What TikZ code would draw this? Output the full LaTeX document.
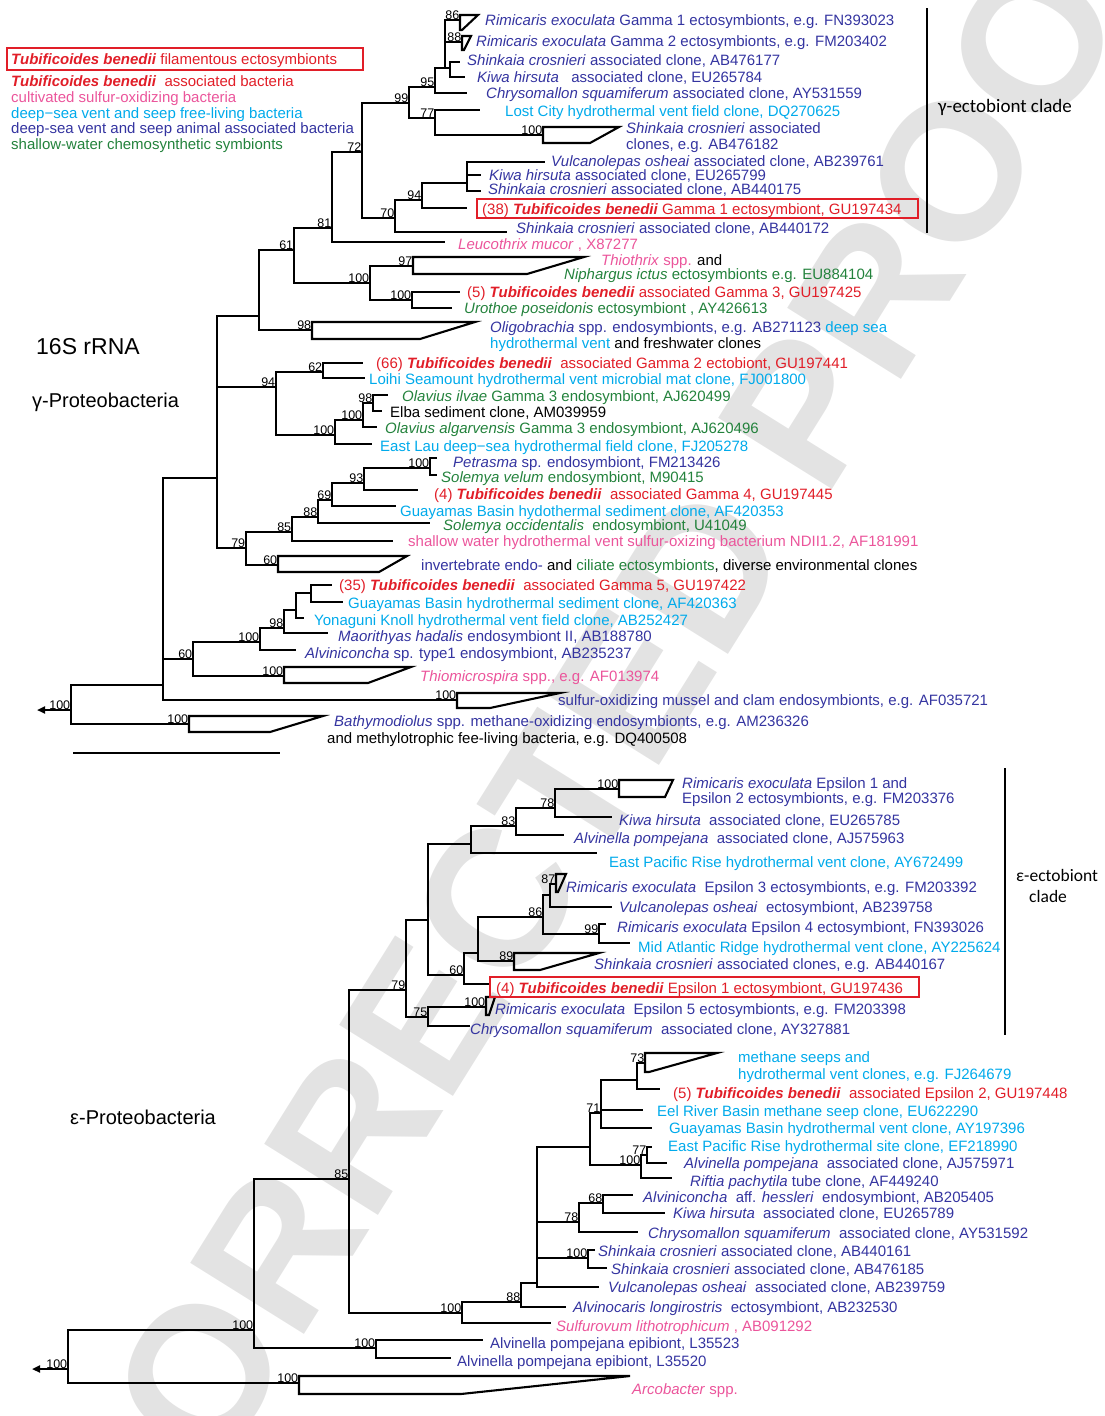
\documentclass[tikz,border=0pt]{standalone}
\usepackage{fontspec}
\setmainfont{Liberation Sans}
\newfontfamily\clb{Carlito}
\usetikzlibrary{arrows.meta}
\definecolor{tred}{RGB}{225,30,40}
\definecolor{tpink}{RGB}{235,85,155}
\definecolor{tcyan}{RGB}{0,170,235}
\definecolor{tblue}{RGB}{52,52,160}
\definecolor{tgreen}{RGB}{35,130,60}
\newcommand{\tb}{\textbf{\textit{Tubificoides benedii}}}
\newcommand\qclade[7]{\coordinate (#1) at (#2,#7);
  \draw[br,line join=miter] (#2,#3) -- (#5,#3) -- (#6,#4) -- (#2,#4) -- cycle;}
\newcommand\bsv[2]{\node[bst] (b#1) at (#1) {#2};}
\newcommand\lb[4]{\node[lab,text=#3] (#1) at (#2) {#4};}
\begin{document}
\begin{tikzpicture}[x=1pt,y=-1pt,
  br/.style={line width=2.1pt},
  lab/.style={anchor=west,inner sep=0pt,text height=11pt,text depth=0pt,font=\fontsize{15}{17}\selectfont},
  bst/.style={anchor=south east,inner sep=0.6pt,font=\fontsize{12.5}{13}\selectfont},
  tip/.style={br,-{Triangle[length=8pt,width=7pt]}}]
\useasboundingbox (0,0) rectangle (1105,1416);
\begin{scope}
\clip (0,0) rectangle (1105,1416);
\node[rotate=58,anchor=base west,text=black!11,inner sep=0pt,font=\fontsize{195}{195}\selectfont\bfseries] (wm) at (142,1594) {CORRECTED PROOF};
\end{scope}

% ---------- legend ----------
\draw[tred,line width=1.4pt] (7,48) rectangle (363,70);
\lb{lg1}{11,59}{tred}{\tb\ filamentous ectosymbionts}
\lb{lg2}{11,81}{tred}{\tb\ \ associated bacteria}
\lb{lg3}{11,97}{tpink}{cultivated sulfur-oxidizing bacteria}
\lb{lg4}{11,113}{tcyan}{deep−sea vent and seep free-living bacteria}
\lb{lg5}{11,128}{tblue}{deep-sea vent and seep animal associated bacteria}
\lb{lg6}{11,144}{tgreen}{shallow-water chemosynthetic symbionts}

\node[anchor=west,inner sep=0pt,font=\fontsize{23}{25}\selectfont] (t16s) at (36,347) {16S rRNA};
\node[anchor=west,inner sep=0pt,font=\fontsize{20}{22}\selectfont] (tgam) at (32,402) {γ-Proteobacteria};
\node[anchor=west,inner sep=0pt,font=\fontsize{20}{22}\selectfont] (teps) at (70,1117) {ε-Proteobacteria};

% ---------- gamma tree ----------
\coordinate (Rg) at (71,710);   \coordinate (aG) at (37,710);
\coordinate (Z) at (163,685);   \coordinate (Y) at (217,478);
\coordinate (X) at (259,316);   \coordinate (N61) at (294,250);
\coordinate (N81) at (332,228); \coordinate (N72) at (362,152);
\coordinate (N99) at (409,103); \coordinate (N95) at (435,87);
\coordinate (N1) at (445,68);   \coordinate (NSK) at (450,68);
\coordinate (N77) at (435,118); \coordinate (N70) at (395,218);
\coordinate (N94) at (422,200); \coordinate (Nvks) at (467,183);
\coordinate (N100) at (370,283);\coordinate (N100b) at (412,300);
\coordinate (N94g) at (276,387);\coordinate (N62) at (323,372);
\coordinate (N100c) at (335,435);\coordinate (N100d) at (363,420);
\coordinate (N98b) at (373,403);\coordinate (N79) at (246,548);
\coordinate (N85) at (292,532); \coordinate (N88) at (318,517);
\coordinate (N69) at (332,500); \coordinate (N93) at (364,483);
\coordinate (N100e) at (430,468);\coordinate (N60l) at (193,659);
\coordinate (N100f) at (260,642);\coordinate (N98c) at (284,628);
\coordinate (Nu) at (296,610);  \coordinate (Nv) at (311,593);

\qclade{G1q}{460}{15}{30}{478}{462}{20}
\qclade{G2q}{462}{36}{50}{471}{464}{42}
\qclade{Qsk}{543}{127}{143}{619}{590}{135}
\qclade{Q97}{413}{257}{274}{584}{527}{266}
\qclade{Q98}{312}{322}{339}{475}{420}{330}
\qclade{Q60}{278}{556}{572}{407}{379}{565}
\qclade{QThio}{284}{667}{683}{411}{368}{676}
\qclade{QMus}{457}{693}{708}{560}{490}{700}
\qclade{QBat}{189}{716}{732}{323}{270}{724}

\coordinate (eChr) at (467,93);  \coordinate (eNSK1) at (460,62); \coordinate (eNSK2) at (465,77);
\coordinate (eLost) at (480,110);\coordinate (eLeu) at (445,242); \coordinate (eSk172) at (507,232);
\coordinate (eTub38) at (467,208);\coordinate (eVul) at (545,162);\coordinate (eKiw) at (481,175);
\coordinate (eShk) at (481,191); \coordinate (eG3) at (460,292);  \coordinate (eUro) at (452,308);
\coordinate (eG2) at (363,363);  \coordinate (eLoi) at (365,378); \coordinate (eEast) at (372,444);
\coordinate (eOalg) at (377,427);\coordinate (eOilv) at (388,395);\coordinate (eElba) at (382,411);
\coordinate (ePet) at (437,458); \coordinate (eSvel) at (437,475);\coordinate (eG4) at (418,490);
\coordinate (eGuay1) at (396,506);\coordinate (eSocc) at (430,523);\coordinate (eShal) at (393,541);
\coordinate (eAlvc) at (296,650);\coordinate (eMao) at (328,633); \coordinate (eYon) at (304,618);
\coordinate (eG5) at (332,585);  \coordinate (eGuay2) at (343,602);

\foreach \a/\b in {Rg/Z,Rg/QBat,Z/Y,Z/N60l,Z/QMus,Y/X,Y/N94g,Y/N79,X/N61,X/Q98,N61/N81,N61/N100,
  N81/N72,N81/eLeu,N72/N99,N72/N70,N99/N95,N99/N77,N95/N1,N95/eChr,N1/G1q,N1/G2q,N1/NSK,
  NSK/eNSK1,NSK/eNSK2,N77/eLost,N77/Qsk,N70/N94,N70/eSk172,N94/Nvks,N94/eTub38,Nvks/eVul,
  Nvks/eKiw,Nvks/eShk,N100/Q97,N100/N100b,N100b/eG3,N100b/eUro,N94g/N62,N94g/N100c,N62/eG2,
  N62/eLoi,N100c/N100d,N100c/eEast,N100d/N98b,N100d/eOalg,N98b/eOilv,N98b/eElba,N79/N85,
  N79/Q60,N85/N88,N85/eShal,N88/N69,N88/eSocc,N69/N93,N69/eGuay1,N93/N100e,N93/eG4,
  N100e/ePet,N100e/eSvel,N60l/N100f,N60l/QThio,N100f/N98c,N100f/eAlvc,N98c/Nu,N98c/eMao,
  Nu/Nv,Nu/eYon,Nv/eG5,Nv/eGuay2}
  \draw[br] (\a) |- (\b);
\draw[tip] (Rg) -- (aG);

\bsv{G1q}{86}\bsv{G2q}{88}\bsv{N95}{95}\bsv{N99}{99}\bsv{N77}{77}\bsv{Qsk}{100}
\bsv{N72}{72}\bsv{N94}{94}\bsv{N70}{70}\bsv{N81}{81}\bsv{N61}{61}\bsv{Q97}{97}
\bsv{N100}{100}\bsv{N100b}{100}\bsv{Q98}{98}\bsv{N62}{62}\bsv{N94g}{94}\bsv{N98b}{98}
\bsv{N100d}{100}\bsv{N100c}{100}\bsv{N100e}{100}\bsv{N93}{93}\bsv{N69}{69}\bsv{N88}{88}
\bsv{N85}{85}\bsv{N79}{79}\bsv{Q60}{60}\bsv{N98c}{98}\bsv{N100f}{100}\bsv{N60l}{60}
\bsv{QThio}{100}\bsv{QMus}{100}\bsv{Rg}{100}\bsv{QBat}{100}

% gamma labels
\lb{g1}{485,20}{tblue}{\textit{Rimicaris exoculata} Gamma 1 ectosymbionts, e.g. FN393023}
\lb{g2}{476,41}{tblue}{\textit{Rimicaris exoculata} Gamma 2 ectosymbionts, e.g. FM203402}
\lb{g3}{467,60}{tblue}{\textit{Shinkaia crosnieri} associated clone, AB476177}
\lb{g4}{477,77}{tblue}{\textit{Kiwa hirsuta}\ \ \ associated clone, EU265784}
\lb{g5}{486,93}{tblue}{\textit{Chrysomallon squamiferum} associated clone, AY531559}
\lb{g6}{505,111}{tcyan}{Lost City hydrothermal vent field clone, DQ270625}
\lb{g7}{626,128}{tblue}{\textit{Shinkaia crosnieri} associated}
\lb{g7b}{626,144}{tblue}{clones, e.g. AB476182}
\lb{g8}{551,161}{tblue}{\textit{Vulcanolepas osheai} associated clone, AB239761}
\lb{g9}{489,175}{tblue}{\textit{Kiwa hirsuta} associated clone, EU265799}
\lb{g10}{488,189}{tblue}{\textit{Shinkaia crosnieri} associated clone, AB440175}
\draw[tred,line width=1.4pt] (477,199) rectangle (918,218);
\lb{g11}{482,209}{tred}{(38) \tb\ Gamma 1 ectosymbiont, GU197434}
\lb{g12}{516,228}{tblue}{\textit{Shinkaia crosnieri} associated clone, AB440172}
\lb{g13}{458,244}{tpink}{\textit{Leucothrix mucor} , X87277}
\lb{g14}{601,260}{black}{\textcolor{tpink}{\textit{Thiothrix} spp.} and}
\lb{g15}{564,274}{tgreen}{\textit{Niphargus ictus} ectosymbionts e.g. EU884104}
\lb{g16}{467,292}{tred}{(5) \tb\ associated Gamma 3, GU197425}
\lb{g17}{464,308}{tgreen}{\textit{Urothoe poseidonis} ectosymbiont , AY426613}
\lb{g18}{490,327}{tblue}{\textit{Oligobrachia} spp. endosymbionts, e.g. AB271123 \textcolor{tcyan}{deep sea}}
\lb{g18b}{490,343}{black}{\textcolor{tcyan}{hydrothermal vent} and freshwater clones}
\lb{g19}{376,363}{tred}{(66) \tb\ \ associated Gamma 2 ectobiont, GU197441}
\lb{g20}{369,379}{tcyan}{Loihi Seamount hydrothermal vent microbial mat clone, FJ001800}
\lb{g21}{402,396}{tgreen}{\textit{Olavius ilvae} Gamma 3 endosymbiont, AJ620499}
\lb{g22}{390,412}{black}{Elba sediment clone, AM039959}
\lb{g23}{385,428}{tgreen}{\textit{Olavius algarvensis} Gamma 3 endosymbiont, AJ620496}
\lb{g24}{380,446}{tcyan}{East Lau deep−sea hydrothermal field clone, FJ205278}
\lb{g25}{453,462}{tblue}{\textit{Petrasma} sp. endosymbiont, FM213426}
\lb{g26}{441,477}{tgreen}{\textit{Solemya velum} endosymbiont, M90415}
\lb{g27}{434,494}{tred}{(4) \tb\ \ associated Gamma 4, GU197445}
\lb{g28}{400,511}{tcyan}{Guayamas Basin hydothermal sediment clone, AF420353}
\lb{g29}{443,525}{tgreen}{\textit{Solemya occidentalis}\ \ endosymbiont, U41049}
\lb{g30}{408,541}{tpink}{shallow water hydrothermal vent sulfur-oxizing bacterium NDII1.2, AF181991}
\lb{g31}{421,565}{black}{\textcolor{tblue}{invertebrate endo-} and \textcolor{tgreen}{ciliate ectosymbionts}, diverse environmental clones}
\lb{g32}{339,585}{tred}{(35) \tb\ \ associated Gamma 5, GU197422}
\lb{g33}{348,603}{tcyan}{Guayamas Basin hydrothermal sediment clone, AF420363}
\lb{g34}{314,620}{tcyan}{Yonaguni Knoll hydrothermal vent field clone, AB252427}
\lb{g35}{338,636}{tblue}{\textit{Maorithyas hadalis} endosymbiont II, AB188780}
\lb{g36}{305,653}{tblue}{\textit{Alviniconcha} sp. type1 endosymbiont, AB235237}
\lb{g37}{420,676}{tpink}{\textit{Thiomicrospira} spp., e.g. AF013974}
\lb{g38}{558,700}{tblue}{sulfur-oxidizing mussel and clam endosymbionts, e.g. AF035721}
\lb{g39}{334,721}{tblue}{\textit{Bathymodiolus} spp. methane-oxidizing endosymbionts, e.g. AM236326}
\lb{g40}{327,738}{black}{and methylotrophic fee-living bacteria, e.g. DQ400508}

\coordinate (sb1) at (73,753); \coordinate (sb2) at (280,753);
\draw[br] (sb1) -- (sb2);
\coordinate (gb1) at (927,8); \coordinate (gb2) at (927,233);
\draw[line width=2pt] (gb1) -- (gb2);
\node[anchor=west,inner sep=0pt,font=\clb\fontsize{19}{21}\selectfont] (gcl) at (938,107) {γ-ectobiont clade};

% ---------- epsilon tree ----------
\coordinate (Re) at (68,1369);   \coordinate (aE) at (32,1369);
\coordinate (N100r) at (254,1330);\coordinate (N100ep) at (376,1348);
\coordinate (N85e) at (349,1179);\coordinate (N79e) at (406,990);
\coordinate (Ntop) at (428,920); \coordinate (N83a) at (471,844);
\coordinate (N83) at (516,826);  \coordinate (N78e) at (555,808);
\coordinate (N60e) at (464,975); \coordinate (Nmid) at (478,953);
\coordinate (N86) at (543,917);  \coordinate (N87p) at (550,895);
\coordinate (N99e) at (599,934); \coordinate (N75) at (428,1017);
\coordinate (N100s) at (462,1313);\coordinate (N88e) at (521,1302);
\coordinate (Nbig) at (537,1283);\coordinate (P) at (590,1147);
\coordinate (N71) at (601,1113); \coordinate (N73p) at (637,1080);
\coordinate (N100g) at (641,1165);\coordinate (N77l) at (647,1155);
\coordinate (N78l) at (579,1222);\coordinate (N68) at (603,1203);
\coordinate (N100h) at (588,1258);

\qclade{QE12}{619}{780}{797}{673}{665}{789}
\qclade{Q87}{556}{874}{892}{566}{558}{884}
\qclade{Q89}{514}{953}{970}{599}{540}{961}
\qclade{QE5}{486}{997}{1015}{495}{489}{1007}
\qclade{Q73}{645}{1053}{1072}{717}{649}{1063}
\qclade{QArco}{299}{1376}{1394}{630}{461}{1383}

\coordinate (eKiw85) at (612,817); \coordinate (eAlv963) at (564,835); \coordinate (eEPR499) at (597,853);
\coordinate (eTubE1) at (491,984); \coordinate (eVul758) at (612,907); \coordinate (eE4) at (606,924);
\coordinate (eMAR) at (630,943);   \coordinate (eChr881) at (470,1026);\coordinate (eSul) at (551,1323);
\coordinate (eAlvo) at (566,1307); \coordinate (eVul759) at (599,1287);\coordinate (eTubE2) at (660,1089);
\coordinate (eEel) at (643,1110);  \coordinate (eGuay396) at (652,1128);\coordinate (eRif) at (672,1178);
\coordinate (eEPR990) at (652,1147);\coordinate (eAlv971) at (667,1163);\coordinate (eChr592) at (638,1232);
\coordinate (eAlvc405) at (633,1195);\coordinate (eKiw789) at (665,1213);\coordinate (eSk161) at (595,1250);
\coordinate (eSk185) at (607,1268);\coordinate (eL523) at (483,1340); \coordinate (eL520) at (451,1358);

\foreach \a/\b in {Re/N100r,Re/QArco,N100r/N85e,N100r/N100ep,N100ep/eL523,N100ep/eL520,
  N85e/N79e,N85e/N100s,N79e/Ntop,N79e/N75,Ntop/N83a,Ntop/N60e,N83a/N83,N83a/eEPR499,
  N83/N78e,N83/eAlv963,N78e/QE12,N78e/eKiw85,N60e/Nmid,N60e/eTubE1,Nmid/N86,Nmid/Q89,
  N86/N87p,N86/N99e,N87p/Q87,N87p/eVul758,N99e/eE4,N99e/eMAR,N75/QE5,N75/eChr881,
  N100s/N88e,N100s/eSul,N88e/Nbig,N88e/eAlvo,Nbig/P,Nbig/N78l,Nbig/N100h,Nbig/eVul759,
  P/N71,P/N100g,N71/N73p,N71/eEel,N71/eGuay396,N73p/Q73,N73p/eTubE2,N100g/N77l,N100g/eRif,
  N77l/eEPR990,N77l/eAlv971,N78l/N68,N78l/eChr592,N68/eAlvc405,N68/eKiw789,
  N100h/eSk161,N100h/eSk185}
  \draw[br] (\a) |- (\b);
\draw[tip] (Re) -- (aE);

\bsv{QE12}{100}\bsv{N78e}{78}\bsv{N83}{83}\bsv{Q87}{87}\bsv{N86}{86}\bsv{N99e}{99}
\bsv{Q89}{89}\bsv{N60e}{60}\bsv{N79e}{79}\bsv{N75}{75}\bsv{QE5}{100}\bsv{N85e}{85}
\bsv{Q73}{73}\bsv{N71}{71}\bsv{N77l}{77}\bsv{N100g}{100}\bsv{N68}{68}\bsv{N78l}{78}
\bsv{N100h}{100}\bsv{N88e}{88}\bsv{N100s}{100}\bsv{N100r}{100}\bsv{N100ep}{100}
\bsv{QArco}{100}\bsv{Re}{100}

\lb{e1}{682,783}{tblue}{\textit{Rimicaris exoculata} Epsilon 1 and}
\lb{e1b}{682,798}{tblue}{Epsilon 2 ectosymbionts, e.g. FM203376}
\lb{e2}{619,820}{tblue}{\textit{Kiwa hirsuta}\ \ associated clone, EU265785}
\lb{e3}{574,838}{tblue}{\textit{Alvinella pompejana}\ \ associated clone, AJ575963}
\lb{e4}{609,862}{tcyan}{East Pacific Rise hydrothermal vent clone, AY672499}
\lb{e5}{566,887}{tblue}{\textit{Rimicaris exoculata}\ \ Epsilon 3 ectosymbionts, e.g. FM203392}
\lb{e6}{619,907}{tblue}{\textit{Vulcanolepas osheai}\ \ ectosymbiont, AB239758}
\lb{e7}{617,927}{tblue}{\textit{Rimicaris exoculata} Epsilon 4 ectosymbiont, FN393026}
\lb{e8}{638,947}{tcyan}{Mid Atlantic Ridge hydrothermal vent clone, AY225624}
\lb{e9}{594,964}{tblue}{\textit{Shinkaia crosnieri} associated clones, e.g. AB440167}
\draw[tred,line width=1.4pt] (490,977) rectangle (919,997);
\lb{e10}{496,988}{tred}{(4) \tb\ Epsilon 1 ectosymbiont, GU197436}
\lb{e11}{495,1009}{tblue}{\textit{Rimicaris exoculata}\ \ Epsilon 5 ectosymbionts, e.g. FM203398}
\lb{e12}{470,1029}{tblue}{\textit{Chrysomallon squamiferum}\ \ associated clone, AY327881}
\lb{e13}{738,1057}{tcyan}{methane seeps and}
\lb{e13b}{738,1074}{tcyan}{hydrothermal vent clones, e.g. FJ264679}
\lb{e14}{673,1093}{tred}{(5) \tb\ \ associated Epsilon 2, GU197448}
\lb{e15}{657,1111}{tcyan}{Eel River Basin methane seep clone, EU622290}
\lb{e16}{669,1128}{tcyan}{Guayamas Basin hydrothermal vent clone, AY197396}
\lb{e17}{668,1146}{tcyan}{East Pacific Rise hydrothermal site clone, EF218990}
\lb{e18}{684,1163}{tblue}{\textit{Alvinella pompejana}\ \ associated clone, AJ575971}
\lb{e19}{690,1181}{tblue}{\textit{Riftia pachytila} tube clone, AF449240}
\lb{e20}{643,1197}{tblue}{\textit{Alviniconcha}\ \ aff. \textit{hessleri}\ \ endosymbiont, AB205405}
\lb{e21}{673,1213}{tblue}{\textit{Kiwa hirsuta}\ \ associated clone, EU265789}
\lb{e22}{648,1233}{tblue}{\textit{Chrysomallon squamiferum}\ \ associated clone, AY531592}
\lb{e23}{598,1251}{tblue}{\textit{Shinkaia crosnieri} associated clone, AB440161}
\lb{e24}{611,1269}{tblue}{\textit{Shinkaia crosnieri} associated clone, AB476185}
\lb{e25}{608,1287}{tblue}{\textit{Vulcanolepas osheai}\ \ associated clone, AB239759}
\lb{e26}{573,1307}{tblue}{\textit{Alvinocaris longirostris}\ \ ectosymbiont, AB232530}
\lb{e27}{556,1326}{tpink}{\textit{Sulfurovum lithotrophicum} , AB091292}
\lb{e28}{490,1343}{tblue}{Alvinella pompejana epibiont, L35523}
\lb{e29}{457,1361}{tblue}{Alvinella pompejana epibiont, L35520}
\lb{e30}{632,1389}{tpink}{\textit{Arcobacter} spp.}

\coordinate (eb1) at (1005,768); \coordinate (eb2) at (1005,1035);
\draw[line width=2pt] (eb1) -- (eb2);
\node[anchor=west,inner sep=0pt,font=\clb\fontsize{17.5}{19}\selectfont] (ecl1) at (1016,875) {ε-ectobiont};
\node[anchor=west,inner sep=0pt,font=\clb\fontsize{17.5}{19}\selectfont] (ecl2) at (1029,896) {clade};
\end{tikzpicture}
\end{document}
